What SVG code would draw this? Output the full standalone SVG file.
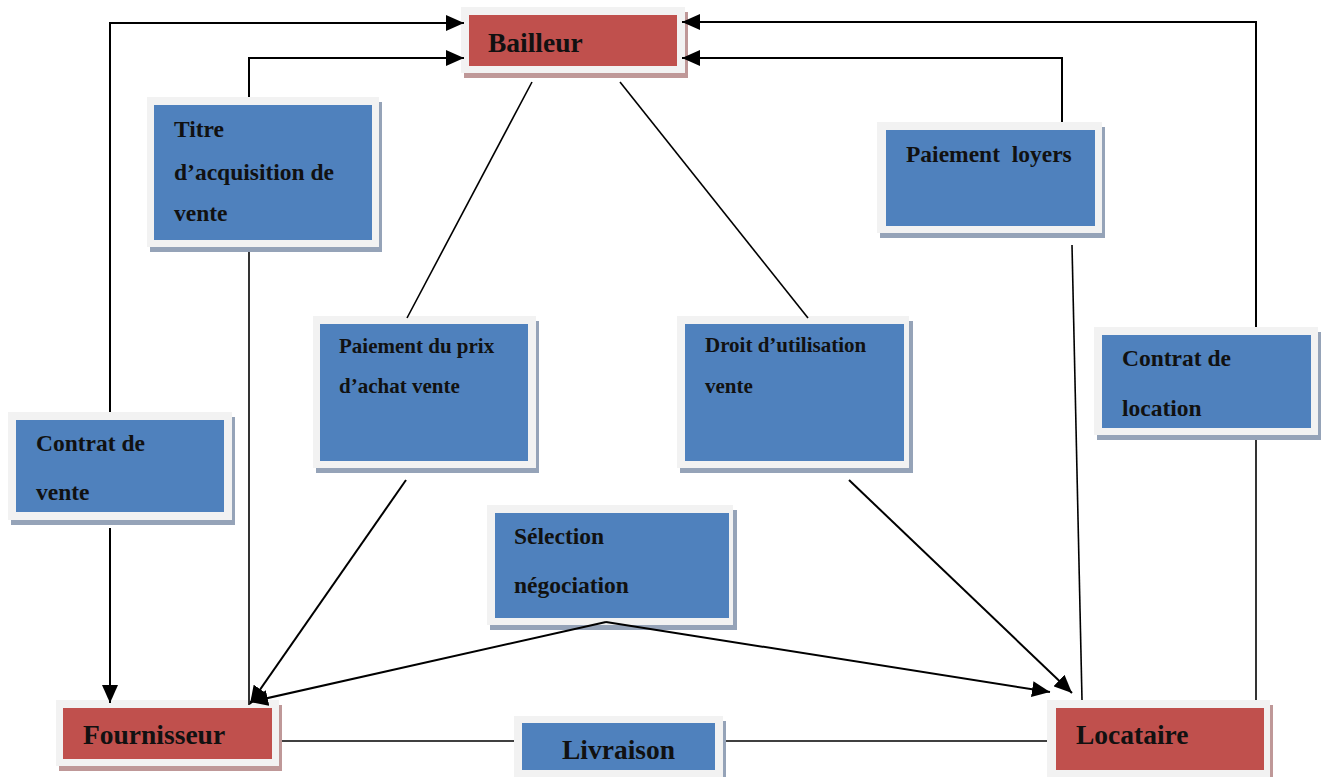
<svg xmlns="http://www.w3.org/2000/svg" width="1328" height="777" viewBox="0 0 1328 777">
  <defs>
    <marker id="arr" markerUnits="userSpaceOnUse" markerWidth="19" markerHeight="16" refX="18" refY="8" orient="auto">
      <path d="M0,0 L18,8 L0,16 z" fill="#000"/>
    </marker>
    <style>
      .frame { fill: #f2f2f2; }
      .blue { fill: #4f81bd; }
      .red { fill: #c0504d; }
      .shb { fill: #95a3b8; }
      .shr { fill: #bf9898; }
      .t { font-family: "Liberation Serif", "Times New Roman", serif; font-weight: bold; fill: #111; }
      .big { font-size: 27.5px; }
      .mid { font-size: 23.5px; }
      .sm { font-size: 21px; }
      .ln { fill: none; stroke: #000; stroke-width: 1.6; }
      .la { fill: none; stroke: #000; stroke-width: 2; }
    </style>
  </defs>
  <rect width="1328" height="777" fill="#fff"/>

  <g id="bailleur">
    <rect class="shr" x="464" y="12" width="224" height="66"/>
    <rect class="frame" x="461" y="7" width="224" height="66"/>
    <rect class="red" x="469" y="15" width="208" height="51"/>
    <text class="t big" x="488" y="52">Bailleur</text>
  </g>

  <g id="titre">
    <rect class="shb" x="150" y="102" width="232" height="150"/>
    <rect class="frame" x="147" y="97" width="232" height="150"/>
    <rect class="blue" x="154" y="105" width="218" height="135"/>
    <text class="t mid" x="174" y="137">Titre</text>
    <text class="t mid" x="174" y="180">d’acquisition de</text>
    <text class="t mid" x="174" y="221">vente</text>
  </g>

  <g id="paiement-prix">
    <rect class="shb" x="316" y="321" width="223" height="152"/>
    <rect class="frame" x="313" y="316" width="223" height="152"/>
    <rect class="blue" x="320" y="324" width="208" height="137"/>
    <text class="t sm" x="339" y="353">Paiement du prix</text>
    <text class="t sm" x="339" y="393">d’achat vente</text>
  </g>

  <g id="droit">
    <rect class="shb" x="680" y="321" width="233" height="152"/>
    <rect class="frame" x="677" y="316" width="232" height="152"/>
    <rect class="blue" x="685" y="324" width="219" height="137"/>
    <text class="t sm" x="705" y="352">Droit d’utilisation</text>
    <text class="t sm" x="705" y="393">vente</text>
  </g>

  <g id="paiement-loyers">
    <rect class="shb" x="880" y="127" width="225" height="111"/>
    <rect class="frame" x="877" y="122" width="225" height="111"/>
    <rect class="blue" x="886" y="130" width="209" height="96"/>
    <text class="t mid" x="906" y="162" xml:space="preserve">Paiement  loyers</text>
  </g>

  <g id="contrat-location">
    <rect class="shb" x="1097" y="332" width="224" height="108"/>
    <rect class="frame" x="1094" y="327" width="224" height="108"/>
    <rect class="blue" x="1102" y="335" width="209" height="93"/>
    <text class="t mid" x="1122" y="366">Contrat de</text>
    <text class="t mid" x="1122" y="416">location</text>
  </g>

  <g id="contrat-vente">
    <rect class="shb" x="11" y="417" width="224" height="108"/>
    <rect class="frame" x="8" y="412" width="224" height="108"/>
    <rect class="blue" x="16" y="420" width="208" height="92"/>
    <text class="t mid" x="36" y="451">Contrat de</text>
    <text class="t mid" x="36" y="500">vente</text>
  </g>

  <g id="selection">
    <rect class="shb" x="490" y="510" width="247" height="120"/>
    <rect class="frame" x="487" y="505" width="246" height="120"/>
    <rect class="blue" x="495" y="513" width="234" height="105"/>
    <text class="t mid" x="514" y="544">Sélection</text>
    <text class="t mid" x="514" y="593">négociation</text>
  </g>

  <g id="fournisseur">
    <rect class="shr" x="59" y="705" width="223" height="66"/>
    <rect class="frame" x="56" y="700" width="223" height="66"/>
    <rect class="red" x="63" y="708" width="209" height="51"/>
    <text class="t big" x="83" y="744">Fournisseur</text>
  </g>

  <g id="livraison">
    <rect class="shb" x="517" y="721" width="209" height="62"/>
    <rect class="frame" x="514" y="716" width="209" height="62"/>
    <rect class="blue" x="522" y="723" width="193" height="47"/>
    <text class="t big" x="562" y="759">Livraison</text>
  </g>

  <g id="locataire">
    <rect class="shr" x="1050" y="705" width="223" height="78"/>
    <rect class="frame" x="1047" y="700" width="223" height="78"/>
    <rect class="red" x="1056" y="708" width="208" height="62"/>
    <text class="t big" x="1076" y="744">Locataire</text>
  </g>

  <g id="connectors">
    <path class="la" d="M110,412 V23 H464" marker-end="url(#arr)"/>
    <path class="la" d="M249,97 V58 H464" marker-end="url(#arr)"/>
    <path class="la" d="M1062,122 V58 H682" marker-end="url(#arr)"/>
    <path class="la" d="M1256,327 V22 H682" marker-end="url(#arr)"/>
    <path class="ln" d="M249,252 V705"/>
    <path class="la" d="M110,528 V703" marker-end="url(#arr)"/>
    <path class="ln" d="M532,82 L407,318"/>
    <path class="ln" d="M620,82 L808,318"/>
    <path class="la" d="M406,480 L250,704" marker-end="url(#arr)"/>
    <path class="la" d="M849,480 L1072,693" marker-end="url(#arr)"/>
    <path class="la" d="M606,622 L250,702" marker-end="url(#arr)"/>
    <path class="la" d="M606,622 L1050,692" marker-end="url(#arr)"/>
    <path class="ln" d="M1072,245 L1082,700"/>
    <path class="ln" d="M1256,440 V700"/>
    <path class="ln" d="M282,741 H514"/>
    <path class="ln" d="M726,741 H1047"/>
  </g>
</svg>
